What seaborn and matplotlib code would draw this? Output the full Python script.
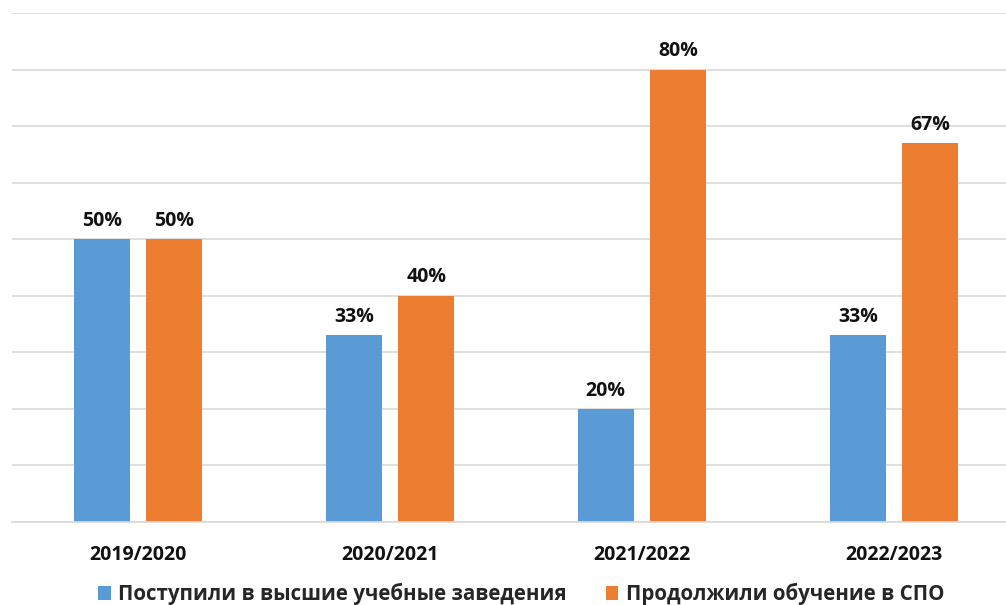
import numpy as np
import pandas as pd
import matplotlib
matplotlib.use('Agg')
import matplotlib.pyplot as plt
import seaborn as sns
from matplotlib.patches import Patch

# данные
years = ['2019/2020', '2020/2021', '2021/2022', '2022/2023']
vuz = [50, 33, 20, 33]        # Поступили в высшие учебные заведения
spo = [50, 40, 80, 67]        # Продолжили обучение в СПО
series_names = ['Поступили в высшие учебные заведения', 'Продолжили обучение в СПО']
colors = ['#5B9BD5', '#ED7D31']

df = pd.DataFrame({'year': years * 2,
                   'value': vuz + spo,
                   'series': [series_names[0]] * 4 + [series_names[1]] * 4})

sns.set_style('white')
plt.rcParams['font.family'] = ['Open Sans', 'DejaVu Sans']

fig = plt.figure(figsize=(10.06, 6.05), dpi=100)
ax = fig.add_axes([12 / 1006, 83 / 605, 1008 / 1006, 509 / 605])

sns.barplot(data=df, x='year', y='value', hue='series', palette=colors,
            width=0.575, gap=0.228, ax=ax, legend=False, saturation=1,
            linewidth=0)

ax.set_ylim(0, 90)
ax.set_yticks(np.arange(0, 91, 10))
ax.yaxis.grid(True, color='#D9D9D9', linewidth=1.2)
ax.set_axisbelow(True)
ax.tick_params(axis='y', left=False, labelleft=False)
ax.tick_params(axis='x', bottom=False, pad=13)
for lab in ax.get_xticklabels():
    lab.set_fontsize(14)
    lab.set_fontweight('bold')
    lab.set_color('#111111')
ax.set_xlabel('')
ax.set_ylabel('')
for s in ['top', 'right', 'left']:
    ax.spines[s].set_visible(False)
ax.spines['bottom'].set_color('#D9D9D9')
ax.spines['bottom'].set_linewidth(1.2)

for cont in ax.containers:
    ax.bar_label(cont, labels=[f'{v:.0f}%' for v in cont.datavalues],
                 padding=6, fontsize=14, fontweight='bold', color='#111111')

handles = [Patch(facecolor=c, edgecolor='none') for c in colors]
fig.legend(handles, series_names, loc='center', bbox_to_anchor=(521 / 1006, 11 / 605),
           ncol=2, frameon=False, handlelength=0.62, handleheight=0.62,
           handletextpad=0.35, columnspacing=1.9,
           prop={'size': 14.8, 'weight': 'bold'})

fig.savefig('out.png', dpi=100)
